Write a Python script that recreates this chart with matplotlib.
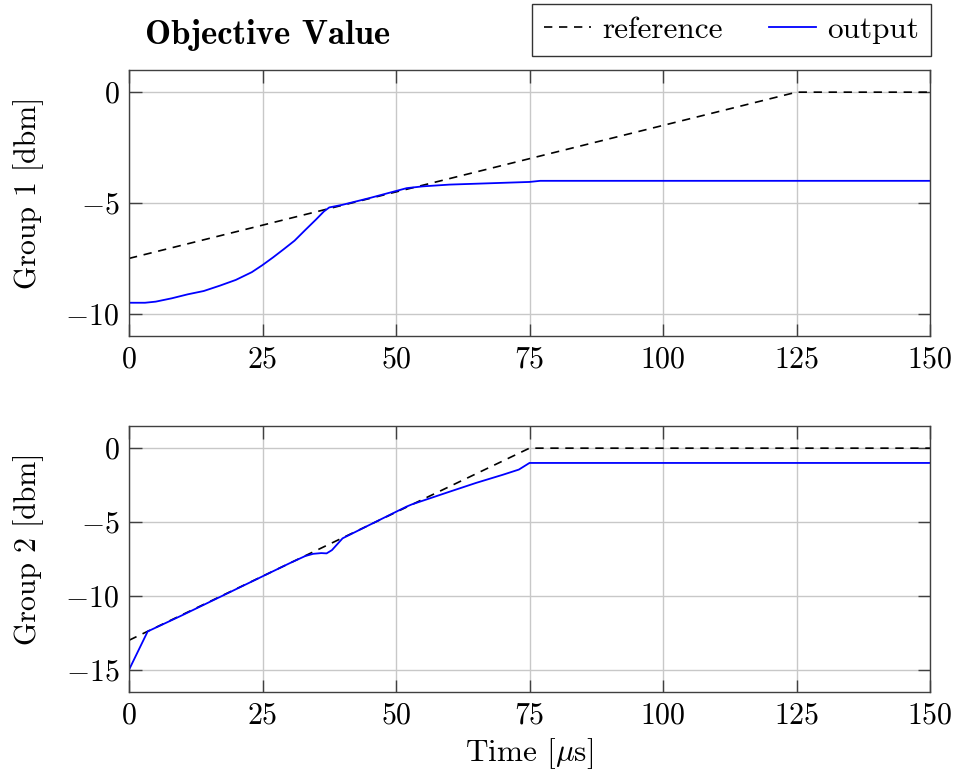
import matplotlib
matplotlib.use("Agg")
import matplotlib.pyplot as plt

# reference trajectories (piecewise linear)
ref1_t = [0, 125, 150]
ref1_v = [-7.5, 0.0, 0.0]
ref2_t = [0, 75, 150]
ref2_v = [-13.0, 0.0, 0.0]

# measured outputs
out1_t = [0, 3, 5, 8, 11, 14, 17, 20, 23, 25, 27, 29, 31, 33, 35, 36.5, 37.5, 40, 45, 52, 55, 60, 65, 70, 75, 77, 150]
out1_v = [-9.5, -9.5, -9.45, -9.3, -9.12, -8.97, -8.73, -8.47, -8.12, -7.8, -7.45, -7.08, -6.7, -6.22, -5.75, -5.38, -5.2, -5.08, -4.78, -4.33, -4.25, -4.17, -4.13, -4.09, -4.05, -4.0, -4.0]
out2_t = [0, 3.5, 10, 20, 30, 33, 34.5, 36, 37, 38, 39, 40, 45, 52, 53, 60, 65, 70, 73, 75, 76, 150]
out2_v = [-15.0, -12.4, -11.3, -9.55, -7.8, -7.3, -7.15, -7.1, -7.12, -6.9, -6.5, -6.1, -5.2, -3.95, -3.8, -2.95, -2.35, -1.8, -1.45, -1.0, -1.0, -1.0]

xticks = [0, 25, 50, 75, 100, 125, 150]

plt.rcParams["font.family"] = ["cmr10"]
plt.rcParams["mathtext.fontset"] = "cm"
plt.rcParams["axes.formatter.use_mathtext"] = True
plt.rcParams["font.size"] = 21

fig = plt.figure(figsize=(9.57, 7.78), dpi=100)
ax1 = fig.add_axes([129/957, 1 - 336/778, 801/957, 266/778])
ax2 = fig.add_axes([129/957, 1 - 692/778, 801/957, 266/778])

spine_col = "#404040"
for ax in (ax1, ax2):
	ax.set_xlim(0, 150)
	ax.set_xticks(xticks)
	ax.grid(True, color="#c8c8c8", linewidth=1.0)
	ax.set_axisbelow(True)
	ax.tick_params(direction="in", length=9, width=1.0, color=spine_col,
		top=True, right=True, labelsize=21.5, pad=7)
	for s in ax.spines.values():
		s.set_color(spine_col)
		s.set_linewidth(1.0)

l1, = ax1.plot(ref1_t, ref1_v, color="black", linestyle=(0, (5, 4)), linewidth=1.2, label="reference")
l2, = ax1.plot(out1_t, out1_v, color="blue", linewidth=1.3, label="output")
ax1.set_ylim(-11, 1)
ax1.set_yticks([-10, -5, 0])
ax1.set_ylabel("Group 1 [dbm]", fontsize=21.5)

ax2.plot(ref2_t, ref2_v, color="black", linestyle=(0, (5, 4)), linewidth=1.2)
ax2.plot(out2_t, out2_v, color="blue", linewidth=1.3)
ax2.set_ylim(-16.5, 1.5)
ax2.set_yticks([-15, -10, -5, 0])
ax2.set_ylabel("Group 2 [dbm]", fontsize=21.5)
ax2.set_xlabel(r"Time [$\mu$s]", fontsize=22.5, labelpad=5)

for ax in (ax1, ax2):
	ax.yaxis.set_label_coords(-0.106, 0.54)

fig.text(268/957, 1 - 35/778, "Objective Value", family="cmb10", fontsize=25,
	ha="center", va="center")

leg = fig.legend(handles=[l1, l2], loc="upper right", bbox_to_anchor=(931/957, 1 - 4/778),
	ncol=2, frameon=True, fancybox=False, edgecolor="black", fontsize=22.5,
	handlelength=1.5, handletextpad=0.35, columnspacing=1.5, borderpad=0.38,
	borderaxespad=0)
leg.get_frame().set_linewidth(1.0)

fig.savefig("out.png", dpi=100)
